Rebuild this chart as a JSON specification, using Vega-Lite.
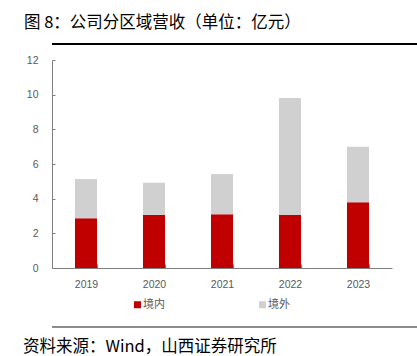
{
  "$schema": "https://vega.github.io/schema/vega-lite/v6.json",
  "padding": {"left": 14, "right": 11, "top": 14, "bottom": 0},
  "background": "white",
  "title": {"text": "图 8：公司分区域营收（单位：亿元）", "anchor": "start", "dx": 10, "font": "Noto Sans CJK SC", "fontSize": 16.5, "fontWeight": "normal", "color": "#000000", "offset": 2.5},
  "config": {"view": {"stroke": null}},
  "spacing": 0,
  "columns": 1,
  "align": "none",
  "resolve": {"scale": {"color": "independent"}, "legend": {"color": "independent"}},
  "concat": [
    {
      "width": 392,
      "height": 20,
      "view": {"stroke": "#ffffff", "strokeWidth": 1},
      "data": {"values": [{"k": 1}]},
      "mark": {"type": "rule", "color": "#000000", "strokeWidth": 2},
      "encoding": {
        "x": {"datum": 0, "type": "quantitative", "scale": {"domain": [0, 1]}, "axis": null},
        "x2": {"datum": 1},
        "y": {"datum": 0.5, "type": "quantitative", "scale": {"domain": [0, 1]}, "axis": null}
      }
    },
    {
      "width": 340,
      "height": 208,
      "data": {"values": [
        {"year": "2019", "region": "境内", "value": 2.87},
        {"year": "2019", "region": "境外", "value": 2.26},
        {"year": "2020", "region": "境内", "value": 3.06},
        {"year": "2020", "region": "境外", "value": 1.86},
        {"year": "2021", "region": "境内", "value": 3.10},
        {"year": "2021", "region": "境外", "value": 2.32},
        {"year": "2022", "region": "境内", "value": 3.06},
        {"year": "2022", "region": "境外", "value": 6.75},
        {"year": "2023", "region": "境内", "value": 3.79},
        {"year": "2023", "region": "境外", "value": 3.21}
      ]},
      "mark": {"type": "bar"},
      "encoding": {
        "x": {"field": "year", "type": "ordinal", "scale": {"paddingInner": 0.676, "paddingOuter": 0.338},
          "axis": {"title": null, "labelAngle": 0, "tickBand": "extent", "tickSize": -4, "domainColor": "#7f7f7f", "tickColor": "#7f7f7f", "labelColor": "#595959", "labelFont": "Liberation Sans", "labelFontSize": 10.5, "labelPadding": 15}},
        "y": {"field": "value", "type": "quantitative", "scale": {"domain": [0, 12]},
          "axis": {"values": [0, 2, 4, 6, 8, 10, 12], "title": null, "grid": false, "tickSize": -3, "domainColor": "#7f7f7f", "tickColor": "#7f7f7f", "labelColor": "#595959", "labelFont": "Liberation Sans", "labelFontSize": 10.5, "labelPadding": 17, "minExtent": 38, "maxExtent": 38}},
        "color": {"field": "region", "type": "nominal", "scale": {"domain": ["境内", "境外"], "range": ["#C00000", "#D0D0D0"]},
          "legend": {"orient": "none", "legendX": 80, "legendY": 239, "direction": "horizontal", "title": null, "symbolType": "square", "symbolSize": 49, "symbolStrokeWidth": 0, "labelFont": "Noto Sans CJK SC", "labelFontSize": 11, "labelColor": "#595959", "labelOffset": 0, "columnPadding": 92}},
        "order": {"field": "region", "sort": "ascending"}
      }
    },
    {
      "width": 392,
      "height": 20,
      "view": {"stroke": "#ffffff", "strokeWidth": 1},
      "data": {"values": [{"k": 1}]},
      "mark": {"type": "rule", "color": "#8c8c8c", "strokeWidth": 2},
      "encoding": {
        "x": {"datum": 0, "type": "quantitative", "scale": {"domain": [0, 1]}, "axis": null},
        "x2": {"datum": 1},
        "y": {"datum": 0.2, "type": "quantitative", "scale": {"domain": [0, 1]}, "axis": null}
      },
      "title": {"text": "资料来源：Wind，山西证券研究所", "orient": "bottom", "anchor": "start", "dx": -28, "font": "Noto Sans CJK SC", "fontSize": 16.5, "fontWeight": "normal", "color": "#000000", "offset": 8}
    }
  ]
}
